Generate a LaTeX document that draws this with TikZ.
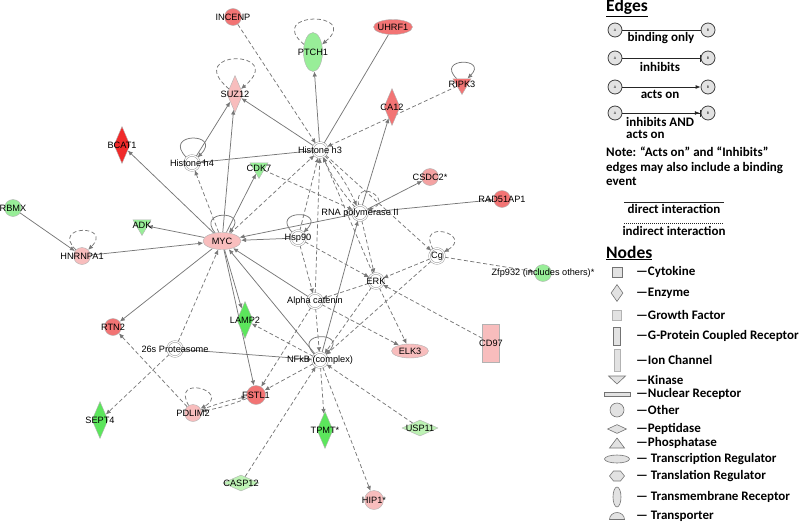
\documentclass[tikz,border=0pt]{standalone}
\usepackage{fontspec}
\setmainfont{Liberation Sans}
\newfontfamily\legfont{Carlito}
\usetikzlibrary{arrows.meta,shapes.geometric,backgrounds}
\definecolor{uphigh}{HTML}{F02A2A}
\definecolor{upmid}{HTML}{F27474}
\definecolor{upmidlow}{HTML}{F4A2A2}
\definecolor{uplow}{HTML}{F8BDBD}
\definecolor{dnhigh}{HTML}{5CE65C}
\definecolor{dnmid}{HTML}{98EE98}
\definecolor{dnlow}{HTML}{BDF2B4}
\definecolor{edgegray}{HTML}{787878}
\definecolor{leggray}{HTML}{E2E2E2}

\begin{document}
\begin{tikzpicture}[x=1pt, y=-1pt,
font=\fontsize{9.2}{10}\selectfont,
gene/.style={draw=black!30, line width=0.4pt, inner sep=0pt},
other/.style={gene, circle, minimum size=17pt},
enzyme/.style={gene, diamond, minimum width=16pt, minimum height=37pt},
kinase/.style={gene, regular polygon, regular polygon sides=3, shape border rotate=180, minimum size=21pt},
tmrec/.style={gene, ellipse, minimum width=19pt, minimum height=39pt},
treg/.style={gene, ellipse, minimum width=38pt, minimum height=17pt},
peptidase/.style={gene, diamond, minimum width=36pt, minimum height=16pt},
gpcr/.style={gene, rectangle, minimum width=17pt, minimum height=38pt},
cplx/.style={circle, draw=gray!85, fill=white, line width=0.45pt, double=white, double distance=1.2pt, minimum size=15pt, inner sep=0pt},
txt/.style={label={center:#1}},
direct/.style={draw=edgegray, line width=0.75pt, -{Latex[length=5pt,width=4.5pt]}},
indirect/.style={direct, dash pattern=on 4pt off 2.5pt},
plain/.style={draw=edgegray, line width=0.75pt},
legtxt/.style={font=\legfont\bfseries\fontsize{13}{14.5}\selectfont, inner sep=0pt},
lhead/.style={font=\legfont\bfseries\fontsize{17.5}{19}\selectfont, inner sep=0pt},
endpt/.style={circle, draw=black!75, fill=leggray, line width=0.8pt, minimum size=14pt, inner sep=0pt, font=\fontsize{3.5}{4}\selectfont},
legline/.style={draw=black!85, line width=0.8pt},
lsym/.style={draw=black!55, fill=leggray, line width=0.6pt, inner sep=0pt}
]
\useasboundingbox (0,0) rectangle (800,522);

% molecules
\node[other, fill=upmid, txt=INCENP] (incenp) at (233,17) {};
\node[tmrec, fill=dnmid, txt=PTCH1] (ptch) at (313,52) {};
\node[treg, fill=upmid, minimum width=39pt, minimum height=15pt, txt=UHRF1] (uhrf) at (393,27) {};
\node[enzyme, fill=uplow, txt=SUZ12] (suz) at (235,94) {};
\node[kinase, fill=upmid, txt=RIPK3] (ripk) at (462,84) {};
\node[enzyme, fill=upmid, txt=CA12] (ca) at (392,107) {};
\node[enzyme, fill=uphigh, txt=BCAT1] (bcat) at (122,145) {};
\node[cplx, txt=Histone h4] (hh4) at (192,163) {};
\node[cplx, txt=Histone h3] (hh3) at (320,150) {};
\node[kinase, fill=dnmid, txt=CDK7] (cdk) at (259,168) {};
\node[other, fill=upmidlow, txt=CSDC2*] (csdc) at (430,177) {};
\node[other, fill=upmid, txt=RAD51AP1] (rad) at (502,199) {};
\node[other, fill=dnmid, txt=RBMX] (rbmx) at (13,208) {};
\node[cplx, txt=RNA polymerase II] (polII) at (360,213) {};
\node[kinase, fill=dnmid, txt=ADK] (adk) at (142,225) {};
\node[treg, fill=uplow, txt=MYC] (myc) at (222,241) {};
\node[cplx, txt=Hsp90] (hsp) at (298,238) {};
\node[other, fill=uplow, txt=HNRNPA1] (hnrnp) at (82,256) {};
\node[cplx, txt=Cg] (cg) at (437,256) {};
\node[other, fill=dnmid, txt=Zfp932 (includes others)*] (zfp) at (543,273) {};
\node[cplx, txt=ERK] (erk) at (376,281) {};
\node[cplx, txt=Alpha catenin] (actn) at (315,301) {};
\node[enzyme, fill=dnhigh, txt=LAMP2] (lamp) at (245,320) {};
\node[other, fill=upmid, txt=RTN2] (rtn) at (113,327) {};
\node[cplx, txt=26s Proteasome] (prot) at (175,349) {};
\node[gpcr, fill=uplow, txt=CD97] (cd97) at (491,343) {};
\node[treg, fill=uplow, minimum width=37pt, minimum height=14pt, txt=ELK3] (elk) at (410,351) {};
\node[cplx, txt=NFkB (complex)] (nfkb) at (320,360) {};
\node[other, fill=upmid, minimum size=19pt, txt=FSTL1] (fstl) at (256,395) {};
\node[other, fill=uplow, txt=PDLIM2] (pdlim) at (193,413) {};
\node[enzyme, fill=dnhigh, txt=SEPT4] (sept) at (100,420) {};
\node[enzyme, fill=dnhigh, txt=TPMT*] (tpmt) at (325,430) {};
\node[peptidase, fill=dnlow, txt=USP11] (usp) at (420,428) {};
\node[peptidase, fill=dnlow, txt=CASP12] (casp) at (241,483) {};
\node[other, fill=uplow, minimum size=19pt, txt=HIP1*] (hip) at (374,500) {};

\begin{scope}[on background layer]
% direct interactions
\draw[direct] (myc) -- (bcat);
\draw[direct] (myc) -- (suz);
\draw[direct] (hh4) -- (suz);
\draw[direct] (hh3) -- (suz);
\draw[direct] (hh3) -- (hh4);
\draw[direct] (hh3) -- (ptch);
\draw[plain] (uhrf) -- (hh3);
\draw[direct] (polII) -- (ca);
\draw[direct] (polII) -- (csdc);
\draw[direct] (polII) -- (rad);
\draw[direct] (polII) -- (myc);
\draw[direct] (hsp) -- (myc);
\draw[direct] (myc) -- (cdk);
\draw[direct] (myc) -- (adk);
\draw[direct] (hnrnp) -- (myc);
\draw[direct] (rbmx) -- (hnrnp);
\draw[direct] (myc) -- (rtn);
\draw[direct] (myc) -- (lamp);
\draw[direct] (myc) -- (fstl);
\draw[direct] (actn) -- (myc);
\draw[direct] (nfkb) -- (myc);
\draw[direct] (prot) -- (nfkb);
\draw[direct] (nfkb) -- (polII);
% indirect interactions
\draw[indirect] (incenp) -- (hh3);
\draw[indirect] (ripk) -- (hh3);
\draw[indirect] (myc) -- (hh3);
\draw[indirect] (myc) -- (hh4);
\draw[indirect] (hsp) -- (hh3);
\draw[indirect] (actn) -- (hh3);
\draw[indirect] (erk) -- (hh3);
\draw[indirect] (polII) to[bend left=8] (hh3);
\draw[indirect] (hh3) to[bend left=8] (polII);
\draw[indirect] (hh3) -- (cg);
\draw[indirect] (cdk) -- (polII);
\draw[indirect] (hsp) -- (erk);
\draw[indirect] (hsp) -- (actn);
\draw[indirect] (polII) -- (erk);
\draw[indirect] (erk) -- (actn);
\draw[indirect] (cg) -- (erk);
\draw[indirect] (cg) -- (zfp);
\draw[indirect] (cg) -- (nfkb);
\draw[indirect] (erk) -- (nfkb);
\draw[indirect] (erk) -- (elk);
\draw[indirect] (cd97) -- (erk);
\draw[indirect] (actn) -- (elk);
\draw[indirect] (actn) -- (nfkb);
\draw[indirect] (actn) -- (fstl);
\draw[indirect] (nfkb) -- (lamp);
\draw[indirect] (nfkb) -- (fstl);
\draw[indirect] (nfkb) -- (tpmt);
\draw[indirect] (nfkb) -- (hip);
\draw[indirect] (usp) -- (nfkb);
\draw[indirect] (casp) -- (nfkb);
\draw[indirect] (prot) -- (myc);
\draw[indirect] (prot) -- (sept);
\draw[indirect] (pdlim) -- (rtn);
\draw[indirect] (pdlim) to[bend left=5] (fstl);
\draw[indirect] (fstl) to[bend left=5] (pdlim);
% self loops
\draw[indirect] (suz) to[out=140, in=40, min distance=62pt] (suz);
\draw[indirect] (ptch) to[out=140, in=40, min distance=52pt] (ptch);
\draw[direct] (ripk) to[out=135, in=45, min distance=30pt] (ripk);
\draw[direct] (hh4) to[out=135, in=45, min distance=36pt] (hh4);
\draw[direct] (myc) to[out=130, in=50, min distance=30pt] (myc);
\draw[direct] (hsp) to[out=135, in=45, min distance=33pt] (hsp);
\draw[direct] (nfkb) to[out=135, in=45, min distance=33pt] (nfkb);
\draw[indirect] (polII) to[out=100, in=20, min distance=30pt] (polII);
\draw[indirect] (cg) to[out=120, in=30, min distance=36pt] (cg);
\draw[indirect] (hnrnp) to[out=135, in=45, min distance=36pt] (hnrnp);
\draw[indirect] (pdlim) to[out=120, in=30, min distance=36pt] (pdlim);
\end{scope}

% legend: edges
\node[lhead, anchor=west] (edgeshd) at (606,8) {\underline{Edges}};
\foreach \y/\n in {30/1,58/2,87/3,113/4}{
  \node[endpt] (a\n) at (615,\y) {A};
  \node[endpt] (b\n) at (708,\y) {B};
}
\draw[legline] (a1) -- (b1);
\draw[legline, -{Bar[width=7pt]}] (a2) -- (b2);
\draw[legline, -{Latex[length=5pt,width=4pt]}] (a3) -- (b3);
\draw[legline, -{Latex[length=5pt,width=4pt] Bar[width=7pt]}] (a4) -- (b4);
\node[legtxt] at (661,38) {binding only};
\node[legtxt] at (660,67) {inhibits};
\node[legtxt] at (660,94) {acts on};
\node[legtxt, font=\legfont\bfseries\fontsize{13}{12.5}\selectfont, align=left, anchor=north west] at (626,117) {inhibits AND\\acts on};
\node[legtxt, align=left, anchor=north west] at (606,147) {Note: “Acts on” and “Inhibits”\\edges may also include a binding\\event};
\coordinate (d1) at (624,202);
\coordinate (d2) at (724,202);
\coordinate (i1) at (624,223);
\coordinate (i2) at (724,223);
\draw[legline] (d1) -- (d2);
\node[legtxt] at (674,209) {direct interaction};
\draw[legline, dash pattern=on 1pt off 1pt] (i1) -- (i2);
\node[legtxt] at (674,231) {indirect interaction};

% legend: nodes
\node[lhead, anchor=west] (nodeshd) at (606,253) {\underline{Nodes}};
\node[lsym, minimum size=10pt] (cyto) at (617,272) {};
\node[lsym, diamond, minimum width=12pt, minimum height=17pt] (enz) at (617,293) {};
\node[lsym, draw=black!30, minimum width=9pt, minimum height=10pt] (grow) at (617,315) {};
\node[lsym, minimum width=7pt, minimum height=18pt] (gpcrsym) at (617,336) {};
\node[lsym, draw=black!30, minimum width=6pt, minimum height=22pt] (ionch) at (617,360) {};
\draw[lsym] (608.5,376) -- (625.5,376) -- (617,384) -- cycle;
\node[lsym, minimum width=26pt, minimum height=4pt] (nucrec) at (617,394) {};
\node[lsym, circle, minimum size=14pt] (othsym) at (617,410) {};
\node[lsym, diamond, minimum width=19pt, minimum height=9pt] (pepsym) at (617,429) {};
\draw[lsym] (609.5,448) -- (617,438) -- (624.5,448) -- cycle;
\node[lsym, ellipse, minimum width=25pt, minimum height=8pt] (tregsym) at (617,459) {};
\draw[lsym] (609.5,476) -- (613.5,471) -- (620.5,471) -- (624.5,476) -- (620.5,481) -- (613.5,481) -- cycle;
\node[lsym, ellipse, minimum width=8pt, minimum height=20pt] (tmrsym) at (617,497) {};
\draw[lsym] (609.5,519.5) arc[start angle=180, end angle=0, x radius=7.5pt, y radius=7pt] -- cycle;
\foreach \y/\t in {272/—Cytokine, 293/—Enzyme, 315/—Growth Factor, 336/—G-Protein Coupled Receptor, 360/—Ion Channel, 379.5/—Kinase, 394/—Nuclear Receptor, 410/—Other, 429/—Peptidase, 443/—Phosphatase, 459/— Transcription Regulator, 476/— Translation Regulator, 497/— Transmembrane Receptor, 516/— Transporter}
  \node[legtxt, anchor=west] at (636,\y) {\t};
\end{tikzpicture}
\end{document}
